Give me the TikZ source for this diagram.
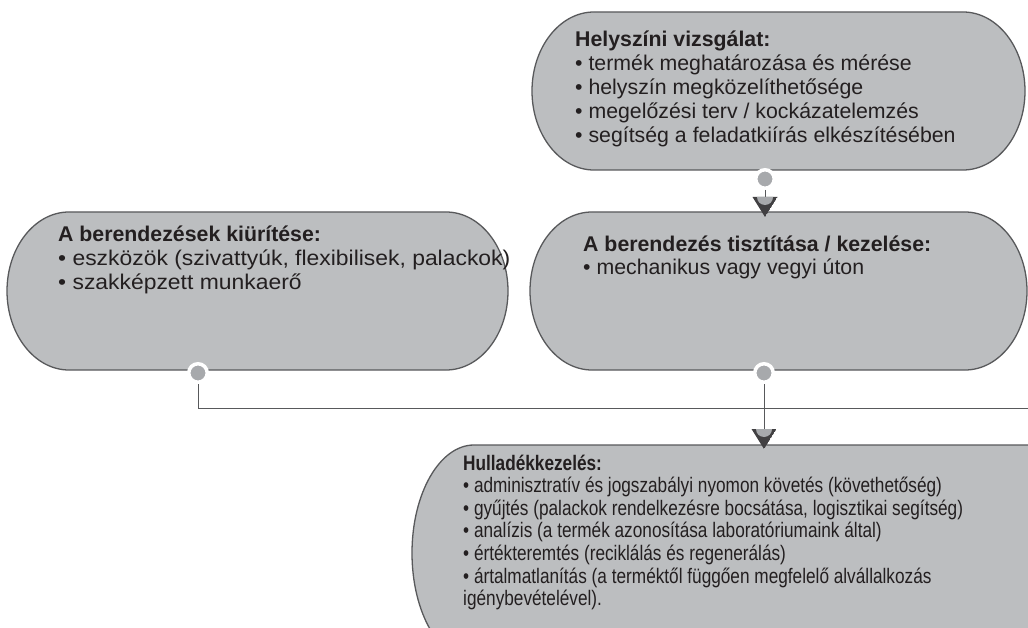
\documentclass[tikz,border=0pt]{standalone}
\usepackage{fontspec}
\setmainfont{Liberation Sans}
\newfontfamily\narrowfont{Liberation Sans}[FakeStretch=0.82]
\newfontfamily\widefont{Liberation Sans}[FakeStretch=1.075]
\definecolor{boxgray}{HTML}{BCBEC0}
\definecolor{edgegray}{HTML}{58595B}
\definecolor{textdark}{HTML}{231F20}
\definecolor{dotgray}{HTML}{A7A9AC}
\definecolor{arrowdark}{HTML}{414042}
\tikzset{
  box/.style={fill=boxgray, draw=edgegray, line width=1.3pt},
  txt/.style={anchor=base west, inner sep=0pt, align=left, text=textdark,
    font=\fontsize{21.3}{23.8}\selectfont},
  narrowtxt/.style={txt, font=\narrowfont\fontsize{21}{22.6}\selectfont},
  dotnode/.style={circle, fill=dotgray, draw=white, line width=3.5pt,
    minimum size=18.5pt, inner sep=0pt},
  conn/.style={draw=edgegray, line width=0.9pt},
  downtip/.pic={
    \begin{scope}
      \clip (-12.5,0) -- (12.5,0) -- (0,20) -- cycle;
      \fill[arrowdark] (-12.5,0) -- (12.5,0) -- (0,20) -- cycle;
      \fill[dotgray] (0,0) circle (8);
    \end{scope}
  }
}
\begin{document}
\begin{tikzpicture}[x=1pt, y=-1pt]
\useasboundingbox (0,0) rectangle (1028,628);
\clip (0,0) rectangle (1028,628);
\fill[white] (0,0) rectangle (1028,628);

% boxes
\path[box] (594,12) arc[start angle=-90, end angle=-270, x radius=62, y radius=79]
  -- (963,170) arc[start angle=90, end angle=-90, x radius=62, y radius=79] -- cycle;
\path[box] (592,212) arc[start angle=-90, end angle=-270, x radius=62, y radius=79]
  -- (965,370) arc[start angle=90, end angle=-90, x radius=62, y radius=79] -- cycle;
\path[box] (69,212) arc[start angle=-90, end angle=-270, x radius=62, y radius=79]
  -- (446,370) arc[start angle=90, end angle=-90, x radius=62, y radius=79] -- cycle;
\path[box] (474,445) arc[start angle=-90, end angle=-270, x radius=62, y radius=108]
  -- (1100,661) -- (1100,445) -- cycle;

% texts (anchor = baseline of the last line)
\node[txt] (t1) at (575,142.2) {\textbf{Helyszíni vizsgálat:}\\
  • termék meghatározása és mérése\\
  • helyszín megközelíthetősége\\
  • megelőzési terv / kockázatelemzés\\
  • segítség a feladatkiírás elkészítésében};
\node[txt] (t2) at (583,275) {\textbf{A berendezés tisztítása / kezelése:}\\
  • mechanikus vagy vegyi úton};
\node[txt] (t3) at (58,289.6) {\textbf{A berendezések kiürítése:}\\
  {\widefont • eszközök (szivattyúk, flexibilisek, palackok)}\\
  {\widefont • szakképzett munkaerő}};
\node[narrowtxt] (t4) at (463,605.6) {\textbf{Hulladékkezelés:}\\
  • adminisztratív és jogszabályi nyomon követés (követhetőség)\\
  • gyűjtés (palackok rendelkezésre bocsátása, logisztikai segítség)\\
  • analízis (a termék azonosítása laboratóriumaink által)\\
  • értékteremtés (reciklálás és regenerálás)\\
  • ártalmatlanítás (a terméktől függően megfelelő alvállalkozás\\
  igénybevételével).};

% dots
\node[dotnode] (d1) at (765,179) {};
\node[dotnode] (d2) at (764,373) {};
\node[dotnode] (d3) at (198,373) {};
\coordinate (a1) at (765,197);
\coordinate (a2) at (764,429);
\coordinate (redge) at (1030,408);

% connectors
\draw[conn] (d1) -- (a1);
\draw[conn] (d2) -- (a2);
\draw[conn] (d3) |- (redge);

% arrowheads
\pic at (a1) {downtip};
\pic at (a2) {downtip};
\end{tikzpicture}
\end{document}
